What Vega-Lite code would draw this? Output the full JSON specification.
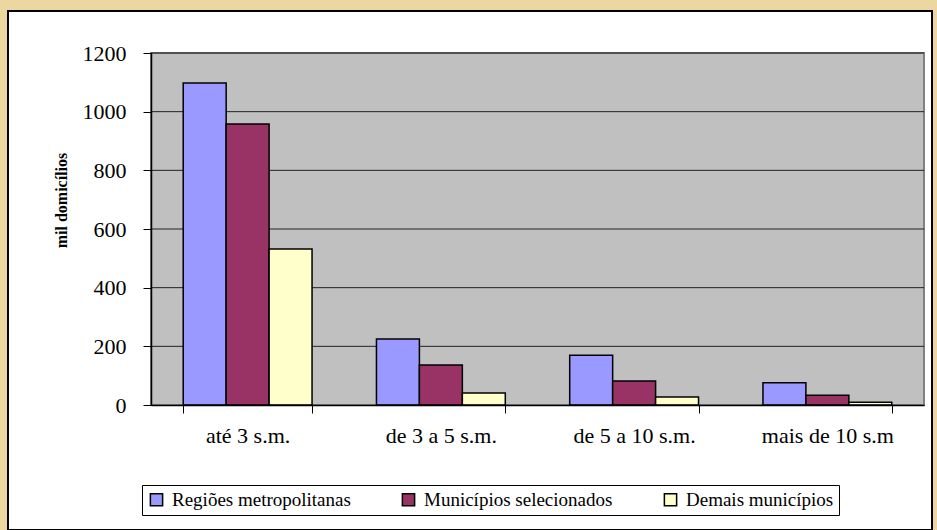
{
  "$schema": "https://vega.github.io/schema/vega-lite/v6.json",
  "autosize": {"type": "none"},
  "width": 924,
  "height": 519,
  "padding": {"left": 8, "top": 11, "right": 5, "bottom": 0},
  "background": "#EDD6A0",
  "view": {"fill": "#ffffff", "stroke": "#000000", "strokeWidth": 2},
  "resolve": {"scale": {"x": "independent"}, "axis": {"x": "independent"}},
  "layer": [
    {
      "data": {"values": [{"area": "plot"}]},
      "mark": {"type": "rect", "fill": "#C0C0C0", "stroke": "#808080", "strokeWidth": 2},
      "encoding": {
        "x": {"datum": 0, "type": "quantitative", "scale": {"domain": [0, 1], "range": [143, 916]}, "axis": null},
        "x2": {"datum": 1},
        "y": {"datum": 0, "type": "quantitative"},
        "y2": {"datum": 1200}
      }
    },
    {
      "data": {"values": [{"g": 200}, {"g": 400}, {"g": 600}, {"g": 800}, {"g": 1000}, {"g": 1200}]},
      "mark": {"type": "rule", "color": "#222222", "strokeWidth": 1},
      "encoding": {
        "x": {"datum": 0, "type": "quantitative", "scale": {"domain": [0, 1], "range": [143, 916]}, "axis": null},
        "x2": {"datum": 1},
        "y": {"field": "g", "type": "quantitative"}
      }
    },
    {
      "data": {
        "values": [
          {"faixa": "até 3 s.m.", "serie": "Regiões metropolitanas", "valor": 1098},
          {"faixa": "até 3 s.m.", "serie": "Municípios selecionados", "valor": 958},
          {"faixa": "até 3 s.m.", "serie": "Demais municípios", "valor": 532},
          {"faixa": "de 3 a 5 s.m.", "serie": "Regiões metropolitanas", "valor": 225},
          {"faixa": "de 3 a 5 s.m.", "serie": "Municípios selecionados", "valor": 136},
          {"faixa": "de 3 a 5 s.m.", "serie": "Demais municípios", "valor": 41},
          {"faixa": "de 5 a 10 s.m.", "serie": "Regiões metropolitanas", "valor": 170},
          {"faixa": "de 5 a 10 s.m.", "serie": "Municípios selecionados", "valor": 82},
          {"faixa": "de 5 a 10 s.m.", "serie": "Demais municípios", "valor": 27},
          {"faixa": "mais de 10 s.m", "serie": "Regiões metropolitanas", "valor": 76},
          {"faixa": "mais de 10 s.m", "serie": "Municípios selecionados", "valor": 33},
          {"faixa": "mais de 10 s.m", "serie": "Demais municípios", "valor": 9}
        ]
      },
      "mark": {"type": "bar", "stroke": "#000000", "strokeWidth": 1.5},
      "encoding": {
        "x": {
          "field": "faixa",
          "type": "nominal",
          "sort": null,
          "scale": {"range": [143, 916], "paddingInner": 0.3333, "paddingOuter": 0.1667},
          "axis": {
            "title": null,
            "offset": -125,
            "zindex": 1,
            "labelAngle": 0,
            "tickBand": "extent",
            "tickSize": 8,
            "tickColor": "#000000",
            "tickWidth": 1,
            "domainColor": "#000000",
            "domainWidth": 1.5,
            "labelPadding": 12,
            "labelFontSize": 22,
            "labelColor": "#000000",
            "grid": false
          }
        },
        "xOffset": {
          "field": "serie",
          "type": "nominal",
          "scale": {"domain": ["Regiões metropolitanas", "Municípios selecionados", "Demais municípios"], "paddingInner": 0, "paddingOuter": 0}
        },
        "y": {
          "field": "valor",
          "type": "quantitative",
          "scale": {"domain": [0, 1200], "range": [394, 42], "nice": false},
          "axis": {
            "title": "mil domicílios",
            "offset": -143,
            "zindex": 1,
            "titleFontSize": 16,
            "titleFontWeight": "bold",
            "titleColor": "#000000",
            "titleX": -90,
            "titleY": 189,
            "titleAlign": "center",
            "titleBaseline": "middle",
            "titleAngle": -90,
            "values": [0, 200, 400, 600, 800, 1000, 1200],
            "format": "d",
            "tickSize": 8,
            "tickColor": "#000000",
            "domainColor": "#000000",
            "domainWidth": 1.5,
            "labelPadding": 17,
            "labelFontSize": 22,
            "labelColor": "#000000",
            "grid": false
          }
        },
        "color": {
          "field": "serie",
          "type": "nominal",
          "scale": {
            "domain": ["Regiões metropolitanas", "Municípios selecionados", "Demais municípios"],
            "range": ["#9999FF", "#993366", "#FFFFCC"]
          },
          "legend": {
            "title": null,
            "orient": "none",
            "direction": "horizontal",
            "legendX": 134,
            "legendY": 474,
            "symbolType": "square",
            "symbolSize": 150,
            "symbolStrokeColor": "#000000",
            "symbolStrokeWidth": 1.5,
            "symbolOpacity": 1,
            "labelFontSize": 19,
            "labelColor": "#000000",
            "labelOffset": 6,
            "labelLimit": 400,
            "columnPadding": 48,
            "padding": 5,
            "fillColor": "#ffffff",
            "strokeColor": "#000000"
          }
        }
      }
    }
  ],
  "config": {
    "font": "Liberation Serif, Times New Roman, serif"
  }
}
